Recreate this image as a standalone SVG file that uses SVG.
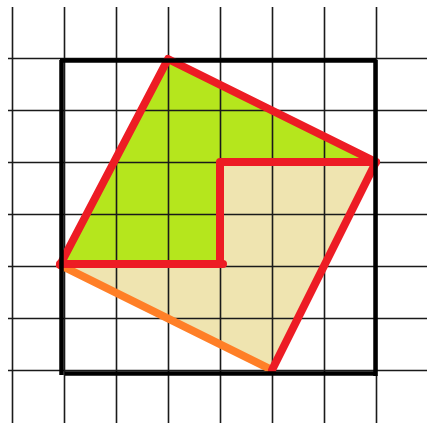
<svg xmlns="http://www.w3.org/2000/svg" width="427" height="423" viewBox="0 0 427 423">
<style>
.grid line{stroke:#1a1a1a;stroke-width:1.6}
.frame line{stroke:#000;stroke-width:4.5;stroke-linecap:butt}
.red{fill:none;stroke:#ed1c24;stroke-width:8;stroke-linejoin:round;stroke-linecap:round}
.orange{fill:none;stroke:#ff7f27;stroke-width:8;stroke-linecap:round}
</style>
<rect width="427" height="423" fill="#fff"/>
<g id="fills">
<polygon points="168,59 376,162 220,162 220,265 60,265" fill="#b5e61d"/>
<polygon points="376,162 272,370 60,265 220,265 220,162" fill="#efe4b0"/>
</g>
<g id="grid" class="grid">
<line x1="12.5" y1="7" x2="12.5" y2="423"/>
<line x1="64.5" y1="7" x2="64.5" y2="423"/>
<line x1="116.5" y1="7" x2="116.5" y2="423"/>
<line x1="168.5" y1="7" x2="168.5" y2="423"/>
<line x1="220.5" y1="7" x2="220.5" y2="423"/>
<line x1="272.5" y1="7" x2="272.5" y2="423"/>
<line x1="324.5" y1="7" x2="324.5" y2="423"/>
<line x1="376.5" y1="7" x2="376.5" y2="423"/>
<line x1="8" y1="58.5" x2="427" y2="58.5"/>
<line x1="8" y1="110.5" x2="427" y2="110.5"/>
<line x1="8" y1="162.5" x2="427" y2="162.5"/>
<line x1="8" y1="214.5" x2="427" y2="214.5"/>
<line x1="8" y1="266.5" x2="427" y2="266.5"/>
<line x1="8" y1="318.5" x2="427" y2="318.5"/>
<line x1="8" y1="370.5" x2="427" y2="370.5"/>
</g>
<g id="connectors">
<line class="orange" x1="60" y1="265" x2="272" y2="370"/>
<polyline class="red" points="60,265 168,59 376,162 272,370"/>
<polyline class="red" points="376,162 220,162 220,264"/>
<line class="red" x1="60" y1="264" x2="223" y2="264"/>
</g>
<g id="frame" class="frame">
<line x1="60" y1="60.5" x2="376" y2="60.5"/>
<line x1="61.5" y1="60" x2="61.5" y2="375"/>
<line x1="65" y1="373.5" x2="375" y2="373.5"/>
<line x1="375.5" y1="60" x2="375.5" y2="376"/>
</g>
</svg>
